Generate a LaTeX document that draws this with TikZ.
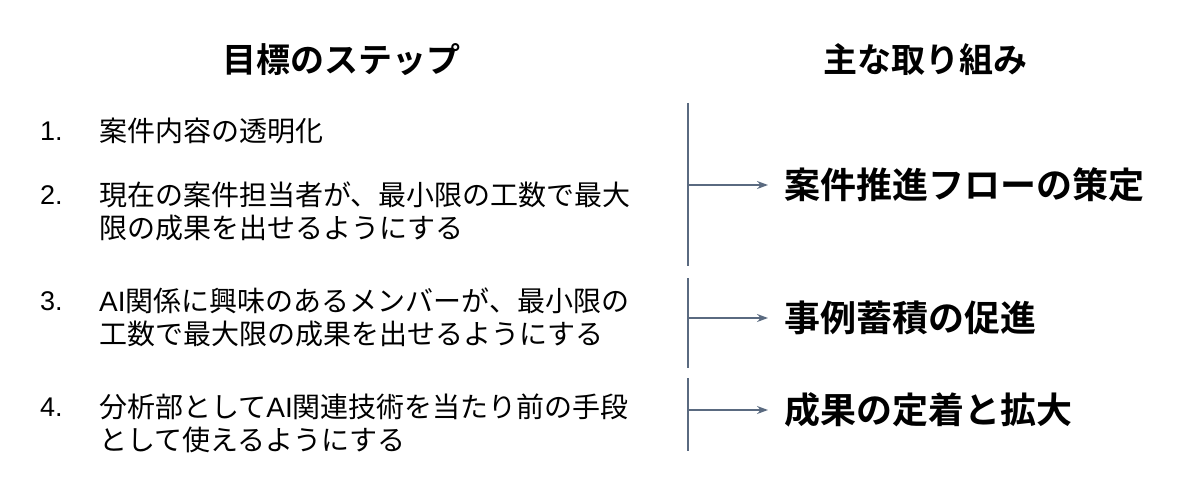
\documentclass[tikz,border=0pt]{standalone}
\usepackage{fontspec}
\setmainfont{Noto Sans CJK JP}[BoldFont={Noto Sans CJK JP Bold}]
\newfontfamily\latinfont{Liberation Sans}
\usetikzlibrary{arrows.meta}
\definecolor{linegray}{HTML}{5A6A80}
\newcommand{\lat}[1]{{\latinfont #1}}

\begin{document}
\begin{tikzpicture}[x=1pt,y=-1pt]
  \tikzset{head/.style={font=\fontsize{34}{40}\selectfont\bfseries,inner sep=0pt},
    item/.style={font=\fontsize{28}{33}\selectfont,anchor=west,align=left,inner sep=0pt},
    num/.style={font=\fontsize{27}{33}\selectfont\latinfont,anchor=west,inner sep=0pt},
    goal/.style={font=\fontsize{36}{40}\selectfont\bfseries,anchor=west,inner sep=0pt},
    bar/.style={draw=linegray,line width=1.4pt},
    link/.style={draw=linegray,line width=1.4pt,-{Stealth[length=11pt,width=8pt]}}}
  \useasboundingbox (0,0) rectangle (1199,484);
  % headings
  \node[head] (stephead) at (341,60) {目標のステップ};
  \node[head] (goalhead) at (925,60) {主な取り組み};
  % steps
  \node[num] (num1) at (40,131) {1.};
  \node[item] (step1) at (99,131) {案件内容の透明化};
  \node[num] (num2) at (40,195) {2.};
  \node[item] (step2) at (99,211.5) {現在の案件担当者が、最小限の工数で最大\\限の成果を出せるようにする};
  \node[num] (num3) at (40,301) {3.};
  \node[item] (step3) at (99,317) {\lat{AI}関係に興味のあるメンバーが、最小限の\\工数で最大限の成果を出せるようにする};
  \node[num] (num4) at (40,407) {4.};
  \node[item] (step4) at (99,423) {分析部として\lat{AI}関連技術を当たり前の手段\\として使えるようにする};
  % goals
  \node[goal] (goal1) at (784,185) {案件推進フローの策定};
  \node[goal] (goal2) at (784,318) {事例蓄積の促進};
  \node[goal] (goal3) at (784,410) {成果の定着と拡大};
  % bars
  \coordinate (bar1top) at (688,103);
  \coordinate (bar1bot) at (688,266);
  \coordinate (bar2top) at (688,278);
  \coordinate (bar2bot) at (688,368);
  \coordinate (bar3top) at (688,378);
  \coordinate (bar3bot) at (688,451);
  \draw[bar] (bar1top) -- (bar1bot);
  \draw[bar] (bar2top) -- (bar2bot);
  \draw[bar] (bar3top) -- (bar3bot);
  % arrows
  \draw[link] (bar1top |- goal1.west) -- ([xshift=-16pt]goal1.west);
  \draw[link] (bar2top |- goal2.west) -- ([xshift=-16pt]goal2.west);
  \draw[link] (bar3top |- goal3.west) -- ([xshift=-16pt]goal3.west);
\end{tikzpicture}
\end{document}
